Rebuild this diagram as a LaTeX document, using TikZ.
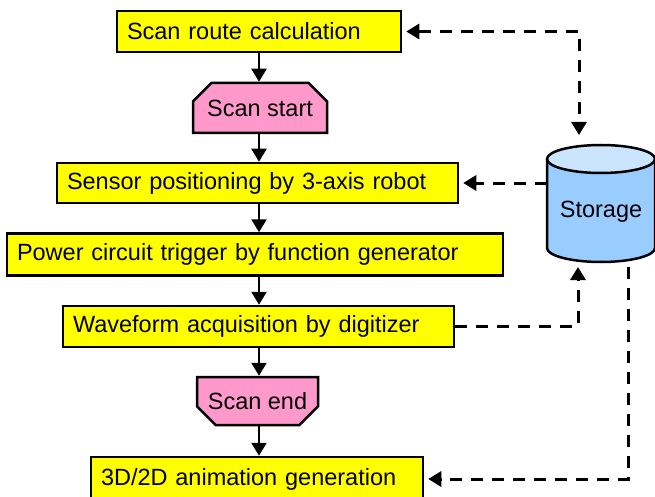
\documentclass[tikz,border=0pt]{standalone}
\usepackage{fontspec}
\setmainfont{Liberation Sans}
\usetikzlibrary{arrows.meta, shapes.misc}

\definecolor{boxyellow}{HTML}{FFFF00}
\definecolor{limitpink}{HTML}{FF99CC}
\definecolor{storebody}{HTML}{99CCFF}
\definecolor{storetop}{HTML}{CCE5FF}

\tikzset{
    procbox/.style={draw, fill=boxyellow, line width=2.5pt, minimum height=41pt,
        inner xsep=10pt, text width=#1, align=left},
    limitbox/.style={draw, fill=limitpink, line width=2.5pt, shape=chamfered rectangle,
        chamfered rectangle xsep=11pt, chamfered rectangle ysep=10pt, inner sep=0pt},
    flow/.style={line width=2.5pt, -{Triangle[width=15pt,length=13pt]}},
    link/.style={line width=3pt, dash pattern=on 12pt off 9pt}
}

\begin{document}
\begin{tikzpicture}[x=1pt, y=-1pt, font=\fontsize{23.5}{28}\selectfont]

    \useasboundingbox (0,0) rectangle (655,497);

    % the flow steps
    \node[procbox=264pt] (route) at (259,31.5) {Scan route calculation};
    \node[limitbox, minimum width=134pt, minimum height=50pt,
          chamfered rectangle corners={north west, north east}] (start) at (260,108) {Scan start};
    \node[procbox=381pt, minimum height=40pt] (sensor) at (257.5,183) {Sensor positioning by 3-axis robot};
    \node[procbox=476pt, minimum height=42pt] (power) at (255,254.5) {Power circuit trigger by function generator};
    \node[procbox=371pt] (wave) at (258.5,326.5) {Waveform acquisition by digitizer};
    \node[limitbox, minimum width=121pt, minimum height=48pt,
          chamfered rectangle corners={south west, south east}] (end) at (257.5,401) {Scan end};
    \node[procbox=312pt, minimum height=44pt] (anim) at (257,479) {3D/2D animation generation};

    % the storage drum
    \fill[storebody] (547,159) -- (547,248)
        arc[start angle=180, end angle=360, x radius=54pt, y radius=14pt] -- (655,159) -- cycle;
    \fill[storetop] (601,159) ellipse [x radius=54pt, y radius=14pt];
    \draw[line width=2.5pt] (547,159) -- (547,248)
        arc[start angle=180, end angle=360, x radius=54pt, y radius=14pt] -- (655,159);
    \draw[line width=2.5pt] (601,159) ellipse [x radius=54pt, y radius=14pt];
    \node (storage) at (601,212) {Storage};

    \coordinate (axis) at (259,0);
    \coordinate (stTop) at (579,135);
    \coordinate (stWest) at (547,183);
    \coordinate (stIn) at (578,267);
    \coordinate (stOut) at (628,267);

    % main flow
    \draw[flow] (route.south -| axis) -- (start.north -| axis);
    \draw[flow] (start.south -| axis) -- (sensor.north -| axis);
    \draw[flow] (sensor.south -| axis) -- (power.north -| axis);
    \draw[flow] (power.south -| axis) -- (wave.north -| axis);
    \draw[flow] (wave.south -| axis) -- (end.north -| axis);
    \draw[flow] (end.south -| axis) -- (anim.north -| axis);

    % data to and from the storage
    \draw[link, {Triangle[width=15pt,length=13pt]}-{Triangle[width=15pt,length=13pt]}, shorten <=4pt] (route.east) -| (stTop);
    \draw[link, -{Triangle[width=15pt,length=13pt]}, shorten >=4pt] (stWest) -- (sensor.east);
    \draw[link, -{Triangle[width=15pt,length=13pt]}] (wave.east) -| (stIn);
    \draw[link, -{Triangle[width=15pt,length=13pt]}, shorten >=4pt] (stOut) |- (anim.east);

\end{tikzpicture}
\end{document}
